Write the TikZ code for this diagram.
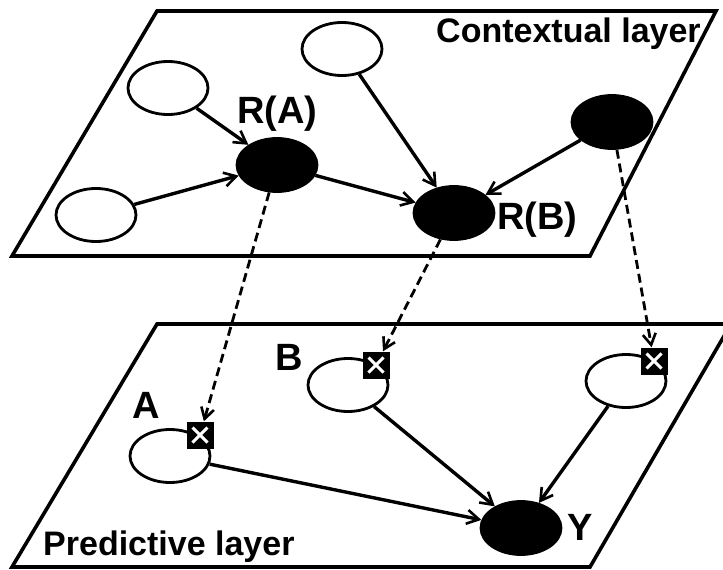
\documentclass[tikz,border=0pt]{standalone}
\usepackage{fontspec}
\setmainfont{Liberation Sans}
\usetikzlibrary{shapes.geometric,arrows.meta}
\begin{document}
\begin{tikzpicture}[x=1pt,y=-1pt,
  plane/.style={draw,line width=3.6pt,line join=miter},
  var/.style={ellipse,draw,line width=2.8pt,minimum width=80pt,minimum height=53pt,inner sep=0pt,fill=white},
  hidden/.style={var,fill=black},
  marker/.style={rectangle,fill=black,minimum size=27pt,inner sep=0pt,
    path picture={
      \draw[white,line width=3pt]
        ([shift={(6pt,6pt)}]path picture bounding box.south west) --
        ([shift={(-6pt,-6pt)}]path picture bounding box.north east)
        ([shift={(6pt,-6pt)}]path picture bounding box.north west) --
        ([shift={(-6pt,6pt)}]path picture bounding box.south east);}},
  link/.style={line width=3.4pt,-{Straight Barb[length=12pt,width=14pt,line width=2.6pt]}},
  project/.style={line width=2.8pt,dash pattern=on 9pt off 5pt,
    -{Straight Barb[length=11pt,width=13pt,line width=2.6pt]}},
  lbl/.style={font=\bfseries\fontsize{38}{38}\selectfont,inner sep=0pt,anchor=base west},
  title/.style={font=\bfseries\fontsize{34}{34}\selectfont,inner sep=0pt,anchor=base west}]

\useasboundingbox (0,0) rectangle (723,570);
\clip (0,0) rectangle (723,570);

% the two planes
\draw[plane] (157,11) -- (716,11) -- (590,256) -- (12,256) -- cycle;
\draw[plane] (157,324) -- (731,324) -- (590,567) -- (12,567) -- cycle;

\node[title] (ctx) at (436,42) {Contextual layer};
\node[title] (pred) at (43,555) {Predictive layer};

% contextual layer
\node[var] (c1) at (168,88) {};
\node[var] (c2) at (96,215) {};
\node[var] (c3) at (342,49) {};
\node[hidden] (ra) at (277,165) {};
\node[hidden] (rb) at (454,213) {};
\node[hidden] (c4) at (612,122) {};

\node[lbl] (lra) at (237,123) {R(A)};
\node[lbl] (lrb) at (497,229) {R(B)};

\draw[link] (c1) -- (ra);
\draw[link] (c2) -- (ra);
\draw[link] (ra) -- (rb);
\draw[link] (c3) -- (rb);
\draw[link] (c4) -- (rb);

% predictive layer
\node[var] (a) at (170,456) {};
\node[var] (b) at (348,385) {};
\node[var] (d) at (626,381) {};
\node[hidden] (y) at (521,528) {};

\node[marker] (ma) at (200,435) {};
\node[marker] (mb) at (376,365) {};
\node[marker] (md) at (654,361) {};

\node[lbl] (la) at (132,418) {A};
\node[lbl] (lb) at (275,370) {B};
\node[lbl] (ly) at (567,540) {Y};

\draw[link] (a) -- (y);
\draw[link] (b) -- (y);
\draw[link] (d) -- (y);

% projections between the layers
\draw[project] (ra) -- (ma);
\draw[project] (rb) -- (mb);
\draw[project] (c4) -- (md);

\end{tikzpicture}
\end{document}
